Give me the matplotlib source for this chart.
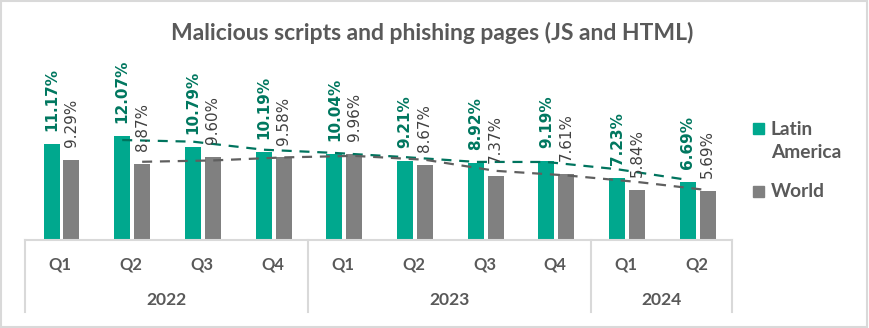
import matplotlib
matplotlib.use("Agg")
import matplotlib.pyplot as plt
import matplotlib.transforms as mtrans
from matplotlib.patches import Rectangle
from matplotlib.lines import Line2D
import numpy as np
import pandas as pd

# ---- data ----
quarters = ["Q1", "Q2", "Q3", "Q4", "Q1", "Q2", "Q3", "Q4", "Q1", "Q2"]
years = ["2022", "2023", "2024"]
year_counts = [4, 4, 2]
latam = [11.17, 12.07, 10.79, 10.19, 10.04, 9.21, 8.92, 9.19, 7.23, 6.69]
world = [9.29, 8.87, 9.60, 9.58, 9.96, 8.67, 7.37, 7.61, 5.84, 5.69]
series_names = ["Latin\nAmerica", "World"]
title = "Malicious scripts and phishing pages (JS and HTML)"

# ---- style ----
W, H = 869, 328
DPI = 100
GREEN = "#00A88E"
GREY = "#808080"
GREEN_LBL = "#00775F"
GREY_LBL = "#404040"
GREEN_TR = "#00745E"
GREY_TR = "#5F5F5F"
TXT = "#595959"
LINE = "#D9D9D9"

fig = plt.figure(figsize=(W / DPI, H / DPI), dpi=DPI)
fig.patch.set_facecolor("white")


def fx(x):
    return x / W


def fy(y):
    return 1 - y / H


# axes in pixel layout
ax_left, ax_right = 25, 732
ax_bottom, ax_top = 239.5, 60
px_per_unit = 8.56
ax = fig.add_axes([fx(ax_left), fy(ax_bottom), fx(ax_right - ax_left),
                   (ax_bottom - ax_top) / H])
ax.set_xlim(-0.5, len(quarters) - 0.5)
ax.set_ylim(0, (ax_bottom - ax_top) / px_per_unit)
ax.axis("off")

x = np.arange(len(quarters))
bw = 0.226
off_g, off_w = -0.125, 0.157
b1 = ax.bar(x + off_g, latam, width=bw, color=GREEN, zorder=2)
b2 = ax.bar(x + off_w, world, width=bw, color=GREY, zorder=2)

# moving-average trend lines (period 2), like Excel
ma_g = pd.Series(latam).rolling(2).mean()
ma_w = pd.Series(world).rolling(2).mean()
ax.plot(x + off_g, ma_g, color=GREEN_TR, lw=1.6, ls=(0, (4.5, 3.5)), zorder=4,
        clip_on=False)
ax.plot(x + off_w, ma_w, color=GREY_TR, lw=1.6, ls=(0, (4.5, 3.5)), zorder=4,
        clip_on=False)

# data labels
renderer = fig.canvas.get_renderer()


def fit_width(t, target, horizontal=True):
    bb = t.get_window_extent(renderer)
    cur = bb.width if horizontal else bb.height
    t.set_fontsize(t.get_fontsize() * target / cur)


g_labels, w_labels = [], []
for xi, v in zip(x, latam):
    t = ax.annotate(f"{v:.2f}%", (xi + off_g, v), xytext=(0, 9.3),
                    textcoords="offset points", rotation=90, ha="center",
                    va="bottom", color=GREEN_LBL, fontweight="bold",
                    family="DejaVu Sans", fontsize=10, annotation_clip=False,
                    zorder=5)
    g_labels.append(t)
for xi, v in zip(x, world):
    t = ax.annotate(f"{v:.2f}%", (xi + off_w, v), xytext=(0, 9.3),
                    textcoords="offset points", rotation=90, ha="center",
                    va="bottom", color=GREY_LBL, family="DejaVu Sans",
                    fontsize=10, annotation_clip=False, zorder=5)
    w_labels.append(t)
fit_width(g_labels[0], 64, horizontal=False)
fs_g = g_labels[0].get_fontsize()
for t in g_labels:
    t.set_fontsize(fs_g)
fit_width(w_labels[0], 48, horizontal=False)
fs_w = w_labels[0].get_fontsize()
for t in w_labels:
    t.set_fontsize(fs_w)

# category axis (multi-level)
tr = mtrans.blended_transform_factory(ax.transData, fig.transFigure)
fig.add_artist(Line2D([fx(ax_left), fx(ax_right)], [fy(ax_bottom), fy(ax_bottom)],
                      color=LINE, lw=1.5, transform=fig.transFigure))
bounds = np.concatenate([[0], np.cumsum(year_counts)]) - 0.5
for b in bounds:
    fig.add_artist(Line2D([b, b], [fy(ax_bottom), fy(312)], color=LINE, lw=1.5,
                          transform=tr))
q_texts = []
for xi, q in zip(x, quarters):
    t = fig.text(xi, fy(264), q, transform=tr, ha="center", va="center",
                 color=TXT, family="Lato", fontweight="bold", fontsize=11)
    q_texts.append(t)
fit_width(q_texts[0], 23)
for t in q_texts:
    t.set_fontsize(q_texts[0].get_fontsize())
y_texts = []
for i, yr in enumerate(years):
    c = (bounds[i] + bounds[i + 1]) / 2
    t = fig.text(c, fy(300), yr, transform=tr, ha="center", va="center",
                 color=TXT, family="Lato", fontweight="bold", fontsize=11)
    y_texts.append(t)
fit_width(y_texts[0], 41)
for t in y_texts:
    t.set_fontsize(y_texts[0].get_fontsize())

# title
tt = fig.text(fx(432), fy(33), title, ha="center", va="center", color=TXT,
              family="Lato", fontweight="bold", fontsize=14)
fit_width(tt, 525)

# legend (manual)
fig.add_artist(Rectangle((fx(753), fy(134)), fx(11), 11 / H, color=GREEN,
                         transform=fig.transFigure))
fig.add_artist(Rectangle((fx(753), fy(197)), fx(11), 11 / H, color=GREY,
                         transform=fig.transFigure))
lg1 = fig.text(fx(771), fy(121), series_names[0], ha="left", va="top",
               color=TXT, family="Lato", fontweight="bold", fontsize=12,
               linespacing=1.4)
lg2 = fig.text(fx(771), fy(191.5), series_names[1], ha="left", va="center",
               color=TXT, family="Lato", fontweight="bold", fontsize=12)
fit_width(lg2, 54)
lg1.set_fontsize(lg2.get_fontsize())

# chart border
fig.add_artist(Rectangle((fx(1), fy(327)), fx(866), 326 / H, fill=False,
                         edgecolor=LINE, lw=1.5, transform=fig.transFigure))

fig.savefig("out.png", dpi=DPI, facecolor="white")
